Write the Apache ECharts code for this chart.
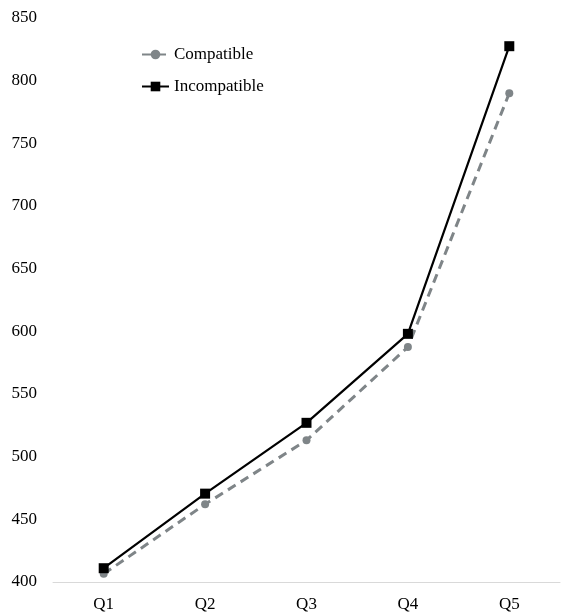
<!DOCTYPE html>
<html><head><meta charset="utf-8">
<script src="https://cdn.jsdelivr.net/npm/echarts@6/dist/echarts.min.js"></script>
<style>html,body{margin:0;padding:0;background:#fff}#c{width:563px;height:615px}</style>
</head><body><div id="c"></div>
<script>
const categories = ['Q1','Q2','Q3','Q4','Q5'];
const compatible = [406.5, 462, 513, 587.5, 790];
const incompatible = [411, 470.5, 527, 598, 827.5];
const yTicks = {min: 400, max: 850, interval: 50};

const font = '"Liberation Serif", "Times New Roman", serif';
const chart = echarts.init(document.getElementById('c'));
chart.setOption({
  animation: false,
  backgroundColor: '#fff',
  grid: {left: 53, right: 3, top: 18, bottom: 33, containLabel: false},
  legend: {
    orient: 'vertical', left: 136, top: 41, itemGap: 15,
    itemWidth: 27, itemHeight: 12,
    textStyle: {fontFamily: font, fontSize: 17, color: '#000'},
    data: ['Compatible', 'Incompatible']
  },
  xAxis: {
    type: 'category', data: categories, boundaryGap: true,
    axisLine: {lineStyle: {color: '#d9d9d9', width: 1}},
    axisTick: {show: false},
    axisLabel: {fontFamily: font, fontSize: 17, color: '#000', margin: 14}
  },
  yAxis: {
    type: 'value', min: yTicks.min, max: yTicks.max, interval: yTicks.interval,
    splitLine: {show: false},
    axisLine: {show: false}, axisTick: {show: false},
    axisLabel: {fontFamily: font, fontSize: 17, color: '#000', margin: 16}
  },
  series: [
    {
      name: 'Compatible', type: 'line', data: compatible,
      symbol: 'circle', symbolSize: 8,
      itemStyle: {color: '#7f8588'},
      lineStyle: {color: '#7f8588', width: 3, type: [9, 6]},
      z: 2
    },
    {
      name: 'Incompatible', type: 'line', data: incompatible,
      symbol: 'rect', symbolSize: 10,
      itemStyle: {color: '#000'},
      lineStyle: {color: '#000', width: 2.2, type: 'solid'},
      z: 3
    }
  ]
});
</script></body></html>
